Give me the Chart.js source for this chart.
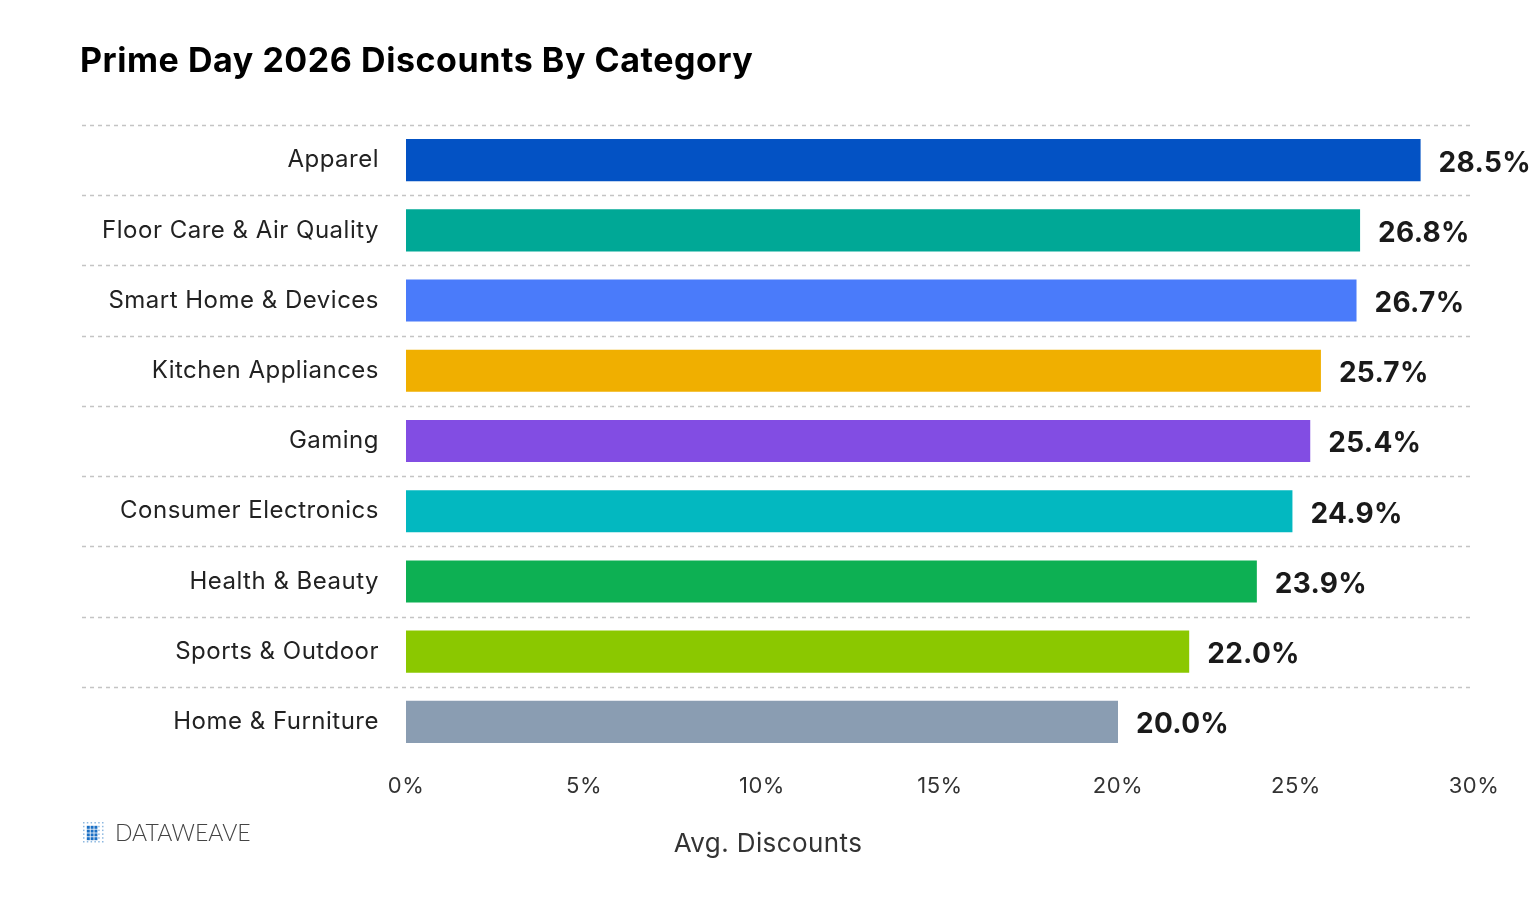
<!DOCTYPE html>
<html>
<head>
<meta charset="utf-8">
<script src="https://cdn.jsdelivr.net/npm/chart.js@4.4.1/dist/chart.umd.min.js"></script>
<style>
    html, body { margin: 0; padding: 0; background: #fff; }
    #wrap { width: 1534px; height: 900px; position: relative; }
</style>
</head>
<body>
<div id="wrap"><canvas id="remises"></canvas></div>
<script>
// données
const categories = ['Apparel', 'Floor Care & Air Quality', 'Smart Home & Devices', 'Kitchen Appliances',
    'Gaming', 'Consumer Electronics', 'Health & Beauty', 'Sports & Outdoor', 'Home & Furniture'];
const remises = [28.5, 26.8, 26.7, 25.7, 25.4, 24.9, 23.9, 22.0, 20.0];
const couleurs = ['#0352C4', '#00A896', '#4A7BFA', '#F0AF00', '#824DE3', '#03B8C0', '#0DB053', '#8BC800', '#8A9DB2'];
const ticksX = [0, 5, 10, 15, 20, 25, 30];

const titre = 'Prime Day 2026 Discounts By Category';
const titreAxe = 'Avg. Discounts';
const police = 'Inter, "Noto Sans", sans-serif';

// lignes pointillées entre catégories, qui passent aussi sous les libellés
const lignesPlugin = {
    id: 'lignes',
    beforeDraw(chart) {
        // police plus large que Inter dans l'original : on espace un peu les lettres
        chart.ctx.letterSpacing = '0.5px';
    },
    beforeDatasetsDraw(chart) {
        const ctx = chart.ctx;
        const y = chart.scales.y;
        const area = chart.chartArea;
        const pas = (area.bottom - area.top) / categories.length;
        ctx.save();
        ctx.strokeStyle = '#c4c4c4';
        ctx.lineWidth = 1.5;
        ctx.setLineDash([4, 4]);
        for (let i = 0; i < categories.length; i++) {
            const py = Math.round(y.getPixelForValue(i) - pas / 2) + 0.5;
            ctx.beginPath();
            ctx.moveTo(82, py);
            ctx.lineTo(area.right, py);
            ctx.stroke();
        }
        ctx.restore();
    }
};

// valeurs au bout des barres, titre, titre d'axe et logo
const textesPlugin = {
    id: 'textes',
    afterDraw(chart) {
        const ctx = chart.ctx;
        ctx.save();
        const meta = chart.getDatasetMeta(0);
        ctx.letterSpacing = '0.3px';
        ctx.font = 'bold 28px ' + police;
        ctx.fillStyle = '#1a1a1a';
        ctx.textBaseline = 'middle';
        ctx.textAlign = 'left';
        meta.data.forEach((bar, i) => {
            ctx.fillText(remises[i].toFixed(1) + '%', bar.x + 18, bar.y + 3);
        });

        ctx.letterSpacing = '0.55px';
        ctx.font = 'bold 34px ' + police;
        ctx.fillStyle = '#000';
        ctx.textBaseline = 'alphabetic';
        ctx.fillText(titre, 80, 72);

        ctx.letterSpacing = '0.4px';
        ctx.font = '26px ' + police;
        ctx.fillStyle = '#333';
        ctx.textAlign = 'center';
        ctx.fillText(titreAxe, 768, 852);

        // logo DATAWEAVE : petite grille de points
        for (let r = 0; r < 6; r++) {
            for (let c = 0; c < 6; c++) {
                const centre = r > 0 && r < 5 && c > 0 && c < 4;
                ctx.fillStyle = centre ? '#1a6fc4' : '#8db8e0';
                const s = centre ? 3 : 1.5;
                ctx.fillRect(83 + c * 3.8, 822 + r * 3.8, s, s);
            }
        }
        ctx.letterSpacing = '0px';
        ctx.font = '300 23px Lato, ' + police;
        ctx.fillStyle = '#444';
        ctx.textAlign = 'left';
        ctx.fillText('DATAWEAVE', 115, 841);
        ctx.restore();
    }
};

new Chart(document.getElementById('remises'), {
    type: 'bar',
    data: {
        labels: categories,
        datasets: [{
            data: remises,
            backgroundColor: couleurs,
            borderWidth: 0,
            barPercentage: 0.6,
            categoryPercentage: 1
        }]
    },
    options: {
        indexAxis: 'y',
        responsive: true,
        maintainAspectRatio: false,
        animation: false,
        layout: {
            padding: { top: 125, right: 60, bottom: 0, left: 0 }
        },
        plugins: {
            legend: { display: false },
            tooltip: { enabled: false }
        },
        scales: {
            x: {
                min: 0,
                max: 30,
                afterBuildTicks: (scale) => {
                    scale.ticks = ticksX.map(v => ({ value: v }));
                },
                afterFit: (scale) => { scale.height = 143; },
                grid: { display: false, drawTicks: false },
                border: { display: false },
                ticks: {
                    padding: 16,
                    color: '#333',
                    font: { family: police, size: 22 },
                    callback: (v) => v + '%'
                }
            },
            y: {
                afterFit: (scale) => { scale.width = 406; },
                grid: { display: false, drawTicks: false },
                border: { display: false },
                ticks: {
                    padding: 27,
                    color: '#222',
                    font: { family: police, size: 24 },
                }
            }
        }
    },
    plugins: [lignesPlugin, textesPlugin]
});
</script>
</body>
</html>
